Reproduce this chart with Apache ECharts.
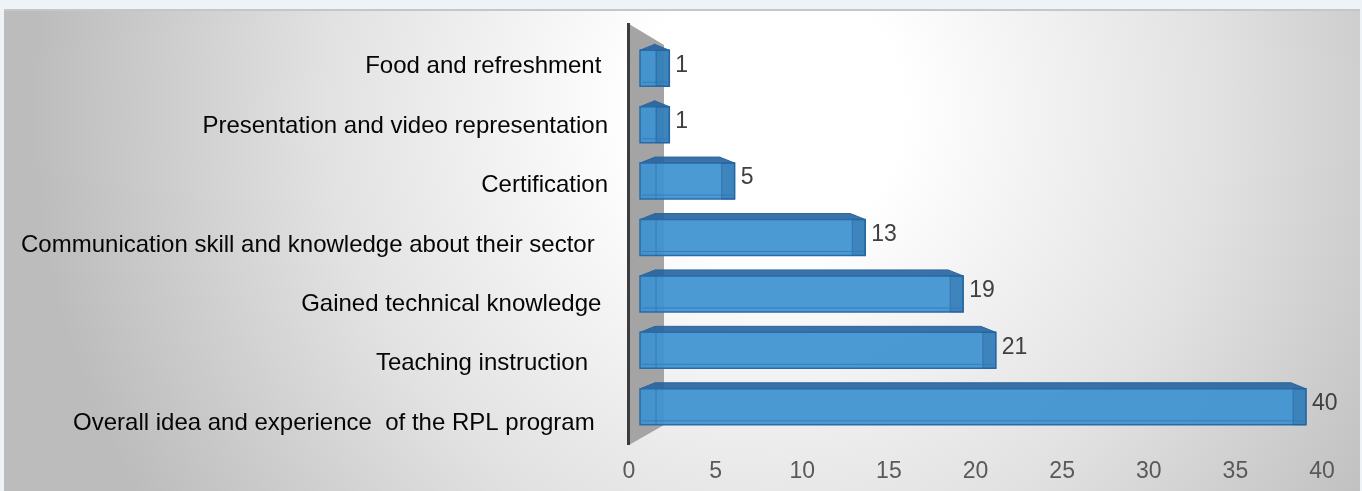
<!DOCTYPE html>
<html>
<head>
<meta charset="utf-8">
<title>RPL feedback</title>
<script src="https://cdn.jsdelivr.net/npm/echarts@6/dist/echarts.min.js"></script>
<style>
  html, body { margin: 0; padding: 0; background: #eef3f7; }
  #chart { width: 1362px; height: 491px; }
</style>
</head>
<body>
<div id="chart"></div>
<script>
// 类目（自上而下）
var categories = [
  'Food and refreshment ',
  'Presentation and video representation',
  'Certification',
  'Communication skill and knowledge about their sector  ',
  'Gained technical knowledge ',
  'Teaching instruction   ',
  'Overall idea and experience  of the RPL program  '
]
var counts = [1, 1, 5, 13, 19, 21, 40]
var xTicks = [0, 40, 5] // min, max, interval

var myChart = echarts.init(document.getElementById('chart'))

// 画一根带点立体感的横条
function renderBar(params, api) {
  var v = api.value(0)
  var idx = api.value(1)
  var start = api.coord([0, idx])
  var end = api.coord([v, idx])
  var h = 36
  var d = 6
  var x0 = start[0] - 13
  var x1 = end[0]
  var yt = end[1] - h / 2 + 3
  return {
    type: 'group',
    children: [
      { // 顶面
        type: 'polygon',
        shape: { points: [[x0, yt], [x0 + 15, yt - d], [x1 - 15, yt - d], [x1, yt]] },
        style: { fill: 'rgba(38,100,160,0.9)', stroke: '#2a659e', lineWidth: 1 }
      },
      { // 正面
        type: 'rect',
        shape: { x: x0, y: yt, width: x1 - x0, height: h },
        style: { fill: 'rgba(62,146,208,0.93)', stroke: '#2a6aa5', lineWidth: 1.5 }
      },
      { // 右侧面
        type: 'rect',
        shape: { x: x1 - 13, y: yt, width: 13, height: h },
        style: { fill: 'rgba(30,85,140,0.3)', stroke: 'rgba(40,100,160,0.6)', lineWidth: 1 }
      },
      { // 左侧后边
        type: 'line',
        shape: { x1: x0 + 16, y1: yt, x2: x0 + 16, y2: yt + h },
        style: { stroke: 'rgba(40,105,170,0.6)', lineWidth: 1 }
      },
      { // 底部高光
        type: 'line',
        shape: { x1: x0 + 2, y1: yt + h - 4, x2: x1 - 2, y2: yt + h - 4 },
        style: { stroke: 'rgba(45,120,190,0.8)', lineWidth: 1 }
      },
      {
        type: 'text',
        x: x1 + 6,
        y: end[1],
        style: {
          text: String(v),
          fill: '#404040',
          font: '23px "Liberation Sans", Arial, sans-serif',
          verticalAlign: 'middle'
        }
      }
    ]
  }
}

var option = {
  animation: false,
  graphic: [
    {
      type: 'rect',
      z: -10,
      silent: true,
      shape: { x: 4, y: 11, width: 1356, height: 480 },
      style: {
        fill: {
          type: 'radial', x: 770, y: 110, r: 740, global: true,
          colorStops: [
            { offset: 0, color: '#ffffff' },
            { offset: 0.18, color: '#ffffff' },
            { offset: 0.6, color: '#e2e2e2' },
            { offset: 1, color: '#bcbcbc' }
          ]
        }
      }
    },
    {
      type: 'rect', z: -9, silent: true,
      shape: { x: 4, y: 9, width: 1356, height: 2 },
      style: { fill: '#c6c6c6' }
    },
    { // 背墙
      type: 'polygon', z: 1, silent: true,
      shape: { points: [[629, 24], [664, 45], [664, 425], [629, 445]] },
      style: { fill: '#a4a4a4' }
    },
    {
      type: 'line', z: 1, silent: true,
      shape: { x1: 628.5, y1: 23, x2: 628.5, y2: 445 },
      style: { stroke: '#3c3c3c', lineWidth: 3 }
    }
  ],
  grid: [
    { left: 629, right: 40, top: 37, bottom: 38 },
    { left: 653, width: 653, top: 37, height: 395 }
  ],
  xAxis: [
    {
      gridIndex: 0,
      type: 'value',
      min: xTicks[0],
      max: xTicks[1],
      interval: xTicks[2],
      axisLine: { show: false },
      axisTick: { show: false },
      splitLine: { show: false },
      axisLabel: {
        margin: 7,
        color: '#595959',
        fontSize: 23,
        fontFamily: '"Liberation Sans", Arial, sans-serif'
      }
    },
    { gridIndex: 1, type: 'value', min: 0, max: 40, show: false }
  ],
  yAxis: [
    {
      gridIndex: 0,
      type: 'category',
      inverse: true,
      data: categories,
      axisLine: { show: false },
      axisTick: { show: false },
      axisLabel: {
        margin: 21,
        color: '#050505',
        fontSize: 24,
        fontFamily: '"Liberation Sans", Arial, sans-serif'
      }
    },
    { gridIndex: 1, type: 'category', inverse: true, data: categories, show: false }
  ],
  series: [
    {
      type: 'custom',
      xAxisIndex: 1,
      yAxisIndex: 1,
      z: 3,
      renderItem: renderBar,
      data: counts.map(function (v, i) { return [v, i] })
    }
  ]
}

myChart.setOption(option)
window.addEventListener('resize', function () { myChart.resize() })
</script>
</body>
</html>
